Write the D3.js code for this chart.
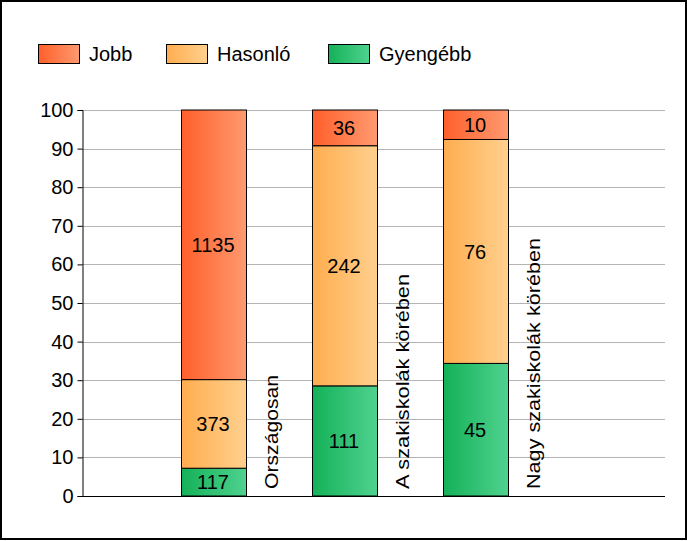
<!DOCTYPE html>
<html><head><meta charset="utf-8">
<script src="https://cdn.jsdelivr.net/npm/d3@7"></script>
<style>body{margin:0;background:#fff}svg{display:block}text{font-family:"Liberation Sans",Arial,sans-serif}</style>
</head><body><svg id="c" width="687" height="541"></svg>
<script>
const categories = ["Országosan", "A szakiskolák körében", "Nagy szakiskolák körében"];
const seriesNames = ["Gyengébb", "Hasonló", "Jobb"];
const gyengebb = [117, 111, 45];
const hasonlo = [373, 242, 76];
const jobb = [1135, 36, 10];
const yTicks = [0,10,20,30,40,50,60,70,80,90,100];
const legendItems = ["Jobb","Hasonló","Gyengébb"];

const svg = d3.select("#c");
svg.append("rect").attr("x",1).attr("y",1).attr("width",685).attr("height",538)
  .attr("fill","#fff").attr("stroke","#000").attr("stroke-width",2);

const defs = svg.append("defs");
const grads = {
  "Jobb": ["#ff5f2b", "#ff9a70"],
  "Hasonló": ["#ffad4f", "#ffd08e"],
  "Gyengébb": ["#14b158", "#4fd28f"]
};
const gradId = {};
Object.entries(grads).forEach(([k,c],i)=>{
  const g = defs.append("linearGradient").attr("id","g"+i).attr("x1","0").attr("x2","1").attr("y1","0").attr("y2","0");
  g.append("stop").attr("offset","0").attr("stop-color",c[0]);
  g.append("stop").attr("offset","1").attr("stop-color",c[1]);
  gradId[k] = "g"+i;
});

const L = 82, R = 665, T = 110, B = 496;
const y = d3.scaleLinear().domain([0,100]).range([B,T]);
const x = d3.scaleLinear().domain([0, 4.45]).range([L,R]);
const barW = 65;

svg.append("g").selectAll("line").data(yTicks.filter(d=>d>0)).join("line")
  .attr("x1",L).attr("x2",R).attr("y1",d=>Math.round(y(d))+0.5).attr("y2",d=>Math.round(y(d))+0.5)
  .attr("stroke","#b4b4b4").attr("stroke-width",1);

const yAxis = d3.axisLeft(y).tickValues(yTicks).tickSize(5).tickPadding(4);
const ga = svg.append("g").attr("transform",`translate(${L+0.5},0)`).call(yAxis);
ga.select(".domain").attr("stroke","#000");
ga.selectAll(".tick line").attr("stroke","#000");
ga.selectAll("text").attr("font-size",20).attr("fill","#000").attr("font-family","Liberation Sans, Arial, sans-serif");

const data = categories.map((c,i)=>({cat:c, "Gyengébb":gyengebb[i], "Hasonló":hasonlo[i], "Jobb":jobb[i]}));
const stacked = d3.stack().keys(seriesNames).offset(d3.stackOffsetExpand)(data);

stacked.forEach(s=>{
  const g = svg.append("g");
  g.selectAll("rect").data(s).join("rect")
    .attr("x",(d,i)=>Math.round(x(i+1)-barW/2)+0.5)
    .attr("y",d=>y(d[1]*100))
    .attr("width",barW)
    .attr("height",d=>y(d[0]*100)-y(d[1]*100))
    .attr("fill",`url(#${gradId[s.key]})`)
    .attr("stroke","#000").attr("stroke-width",1);
  g.selectAll("text").data(s).join("text")
    .attr("x",(d,i)=>x(i+1))
    .attr("y",d=>(y(d[0]*100)+y(d[1]*100))/2)
    .attr("dy","0.36em")
    .attr("text-anchor","middle").attr("font-size",20).attr("fill","#000")
    .text(d=>d.data[s.key]);
});

svg.append("line").attr("x1",L).attr("x2",R).attr("y1",B+0.5).attr("y2",B+0.5).attr("stroke","#000");

const labelLen = [114, 215, 251];
svg.append("g").selectAll("text").data(categories).join("text")
  .attr("transform",(d,i)=>`translate(${x(i+1)+barW/2+26},489) rotate(-90)`)
  .attr("dy","0.36em")
  .attr("text-anchor","start").attr("font-size",19).attr("fill","#000")
  .attr("textLength",(d,i)=>labelLen[i]).attr("lengthAdjust","spacingAndGlyphs")
  .text(d=>d);

const lx = [38, 166, 328];
const lg = svg.append("g");
legendItems.forEach((k,i)=>{
  lg.append("rect").attr("x",lx[i]+0.5).attr("y",44.5).attr("width",41).attr("height",19)
    .attr("fill",`url(#${gradId[k]})`).attr("stroke","#000");
  lg.append("text").attr("x",lx[i]+51).attr("y",54).attr("dy","0.36em")
    .attr("font-size",20).attr("fill","#000").text(k);
});
</script></body></html>
